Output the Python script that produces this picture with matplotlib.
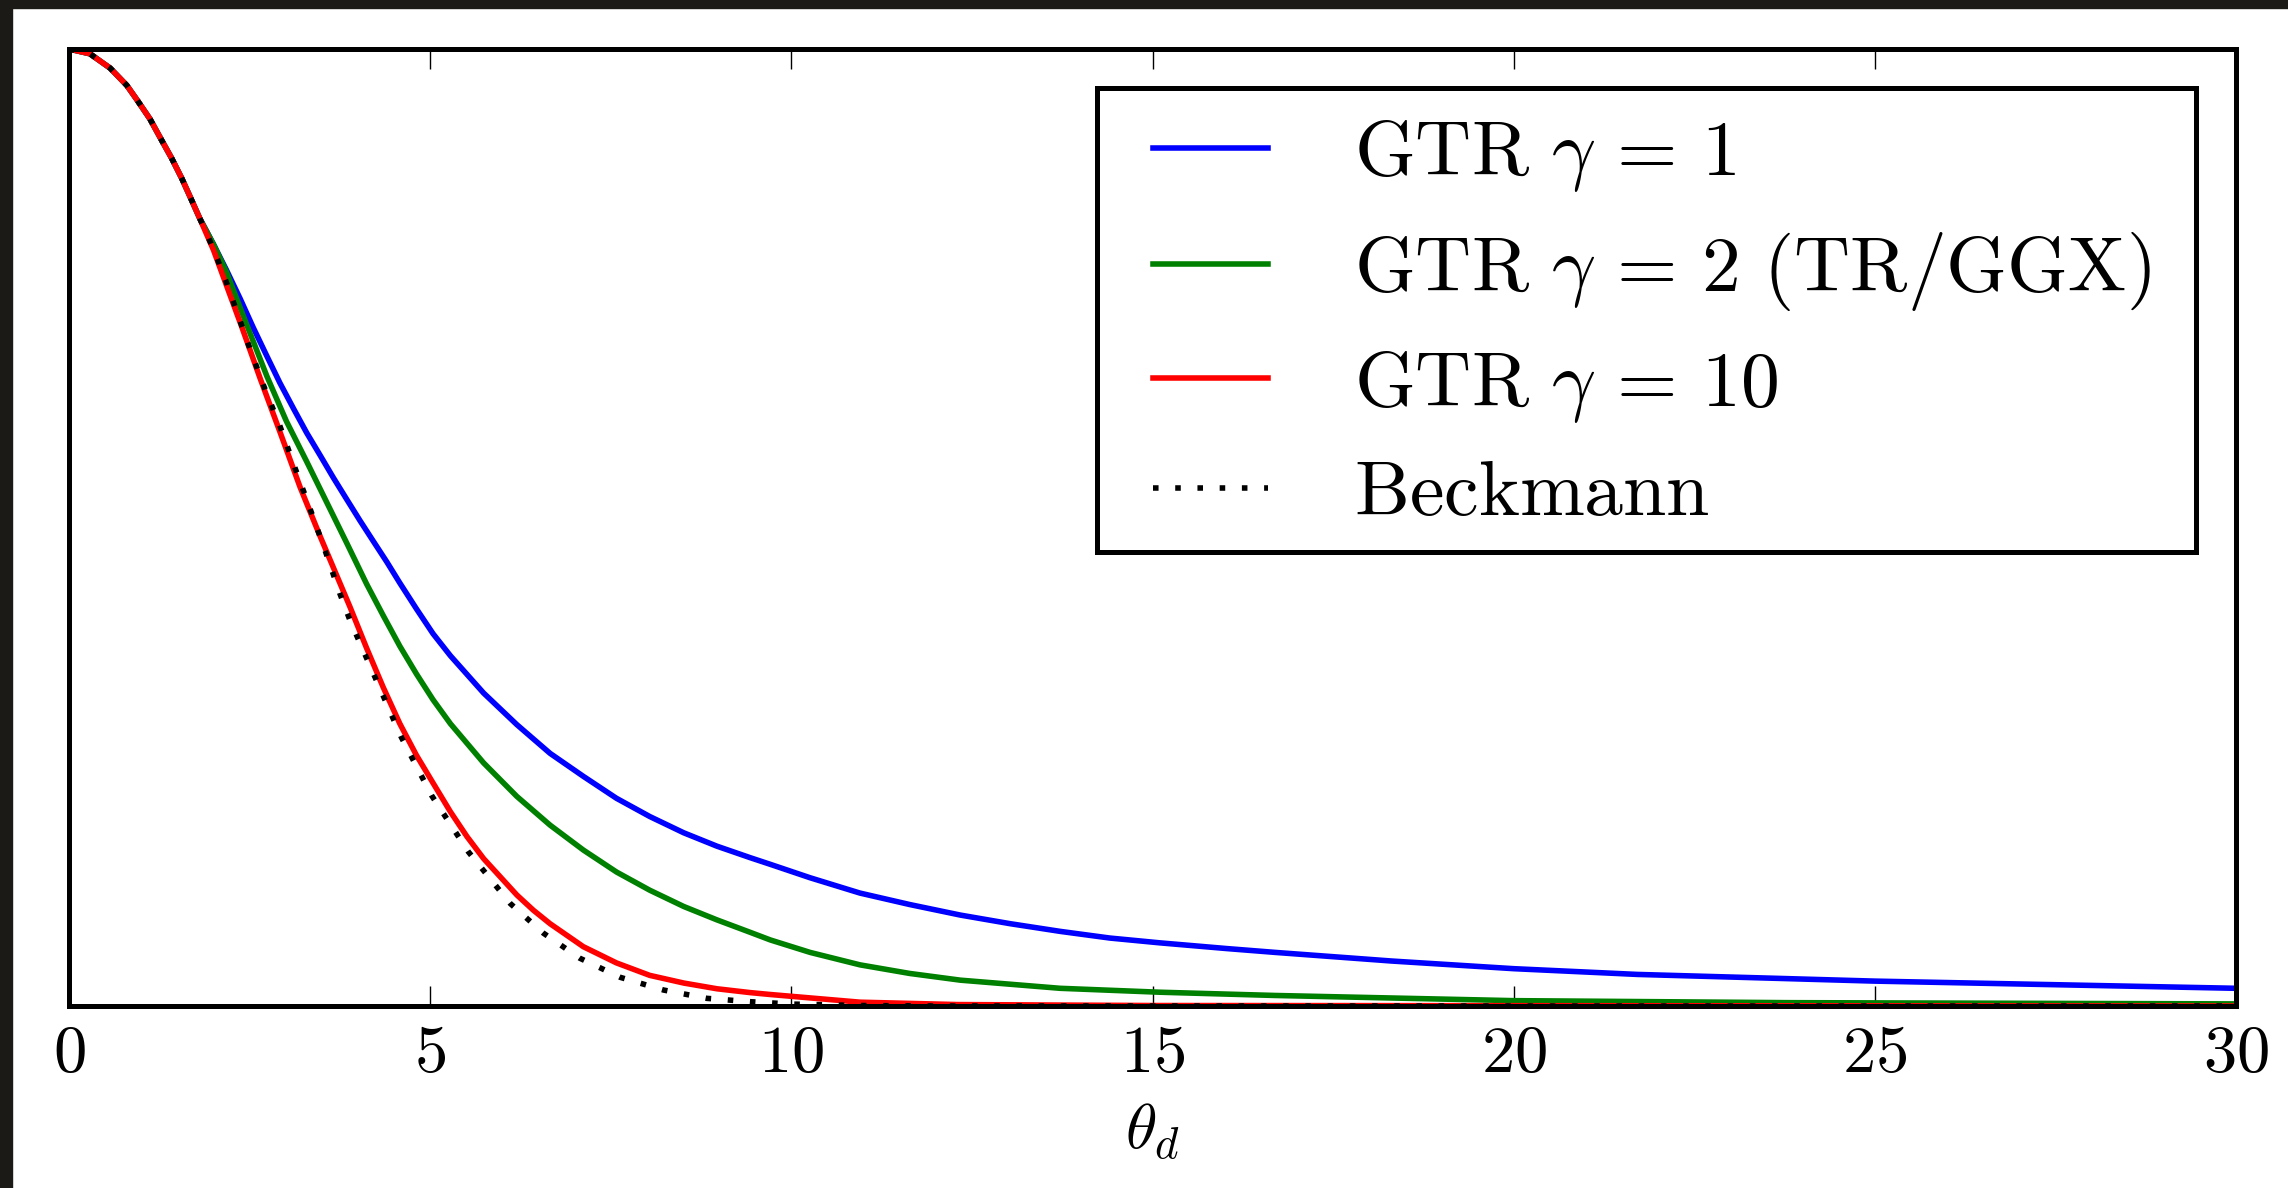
import matplotlib
matplotlib.use('Agg')
import matplotlib.pyplot as plt
from matplotlib.patches import Rectangle

plt.rcParams['mathtext.fontset'] = 'cm'
plt.rcParams['font.family'] = 'serif'
plt.rcParams['font.serif'] = ['cmr10', 'DejaVu Serif']

# values (theta_d in degrees, normalised D)
theta_start = [0, 0.29, 0.57, 0.80, 0.94, 1.12, 1.28, 1.42, 1.56, 1.68, 1.81]
d_start = [1.0, 0.995, 0.980, 0.962, 0.947, 0.927, 0.905, 0.886, 0.865, 0.845, 0.823]

theta_blue = theta_start + [2.00, 2.18, 2.37, 2.55, 2.74, 2.92, 3.11, 3.29, 3.48, 3.66, 3.84,
                            4.03, 4.21, 4.40, 4.58, 4.81, 5.04, 5.28, 5.74, 6.20, 6.66, 7.12,
                            7.58, 8.04, 8.51, 8.97, 9.43, 9.71, 10.26, 10.95, 11.64, 12.34,
                            13.03, 13.72, 14.41, 15.10, 16.03, 16.70, 18.31, 20.0, 21.71, 23.6,
                            25.0, 30.0]
d_blue = d_start + [0.796, 0.769, 0.739, 0.709, 0.679, 0.651, 0.624, 0.599, 0.575, 0.552, 0.530,
                    0.507, 0.486, 0.464, 0.442, 0.415, 0.389, 0.366, 0.327, 0.294, 0.264, 0.240,
                    0.217, 0.198, 0.181, 0.167, 0.155, 0.148, 0.134, 0.118, 0.106, 0.095,
                    0.086, 0.078, 0.071, 0.066, 0.060, 0.056, 0.047, 0.039, 0.033, 0.029,
                    0.026, 0.0185]

theta_green = theta_start + [2.00, 2.18, 2.46, 2.74, 3.01, 3.29, 3.57, 3.85, 4.12, 4.35, 4.58,
                             4.81, 5.04, 5.28, 5.74, 6.20, 6.66, 7.12, 7.58, 8.04, 8.51, 8.97,
                             9.43, 9.71, 10.26, 10.95, 11.64, 12.34, 13.72, 15.10, 16.7, 20.0,
                             23.8, 30.0]
d_green = d_start + [0.796, 0.767, 0.712, 0.658, 0.611, 0.569, 0.526, 0.483, 0.441, 0.408, 0.376,
                     0.347, 0.320, 0.295, 0.254, 0.219, 0.189, 0.163, 0.140, 0.121, 0.104, 0.090,
                     0.077, 0.069, 0.056, 0.043, 0.034, 0.027, 0.0185, 0.0144, 0.011, 0.0056,
                     0.0035, 0.0022]

theta_red = theta_start + [2.00, 2.18, 2.39, 2.65, 2.92, 3.20, 3.47, 3.75, 3.89, 4.12, 4.35,
                           4.58, 4.81, 5.04, 5.28, 5.51, 5.74, 5.97, 6.20, 6.43, 6.66, 7.12,
                           7.58, 8.04, 8.51, 8.97, 9.43, 9.71, 10.95, 12.3, 15.0, 30.0]
d_red = d_start + [0.790, 0.753, 0.710, 0.655, 0.600, 0.542, 0.492, 0.442, 0.417, 0.374, 0.333,
                   0.295, 0.262, 0.233, 0.203, 0.177, 0.154, 0.135, 0.116, 0.100, 0.086, 0.062,
                   0.045, 0.032, 0.024, 0.018, 0.014, 0.012, 0.004, 0.0015, 0.0005, 0.0]

theta_beck = theta_start + [2.00, 2.18, 2.48, 2.69, 2.92, 3.13, 3.34, 3.55, 3.75, 3.89, 4.24,
                            4.60, 5.02, 5.53, 6.11, 6.57, 7.07, 7.63, 8.23, 8.83, 9.43, 10.0,
                            11.0, 12.0, 30.0]
d_beck = d_start + [0.791, 0.756, 0.692, 0.649, 0.606, 0.562, 0.519, 0.475, 0.431, 0.403, 0.343,
                    0.281, 0.220, 0.161, 0.107, 0.076, 0.050, 0.030, 0.0167, 0.008, 0.0045,
                    0.002, 0.0005, 0.0, 0.0]

labels = [r'$\mathrm{GTR}\ \gamma \,=\, 1$', r'$\mathrm{GTR}\ \gamma \,=\, 2\ \mathrm{(TR/GGX)}$',
          r'$\mathrm{GTR}\ \gamma \,=\, 10$', r'$\mathrm{Beckmann}$']
xticks = [0, 5, 10, 15, 20, 25, 30]

W, H = 2288, 1188
fig = plt.figure(figsize=(W / 100, H / 100), dpi=100)
# dark screenshot edge on the left and top
fig.patches.append(Rectangle((0, 0), 12 / W, 1, transform=fig.transFigure, color='#1b1a17', zorder=-1))
fig.patches.append(Rectangle((0, 1 - 8 / H), 1, 8 / H, transform=fig.transFigure, color='#1b1a17', zorder=-1))

ax = fig.add_axes([69 / W, (H - 1006) / H, (2236 - 69) / W, (1006 - 49) / H])
lw = 4.0
ax.plot(theta_blue, d_blue, color='#0000ff', lw=lw, label=labels[0])
ax.plot(theta_green, d_green, color='#008000', lw=lw, label=labels[1])
ax.plot(theta_red, d_red, color='#ff0000', lw=lw, label=labels[2])
ax.plot(theta_beck, d_beck, color='black', lw=lw, linestyle=(0, (1, 3.0)), label=labels[3])

ax.set_xlim(0, 30)
ax.set_ylim(0, 1.0)
ax.set_yticks([])
ax.set_xticks(xticks)
ax.set_xticklabels(['$%d$' % t for t in xticks])
ax.tick_params(axis='x', direction='in', top=True, length=14.4, width=1.0, labelsize=48, pad=14)
for s in ax.spines.values():
    s.set_linewidth(3.6)
ax.set_xlabel(r'$\theta_d$', fontsize=46, labelpad=12)

# legend frame drawn by hand, legend entries without frame
ax.add_patch(Rectangle((1097 / W, (H - 552) / H), 1099 / W, 464 / H, transform=fig.transFigure,
                       facecolor='white', edgecolor='black', lw=3.6, zorder=5, clip_on=False))
leg = ax.legend(loc='upper left', bbox_to_anchor=(1153 / W, (H - 118) / H),
                bbox_transform=fig.transFigure, fontsize=56, frameon=False, borderpad=0,
                borderaxespad=0, handlelength=1.48, handletextpad=1.1, labelspacing=0.46)
leg.set_zorder(6)

plt.savefig('out.png', dpi=100)
